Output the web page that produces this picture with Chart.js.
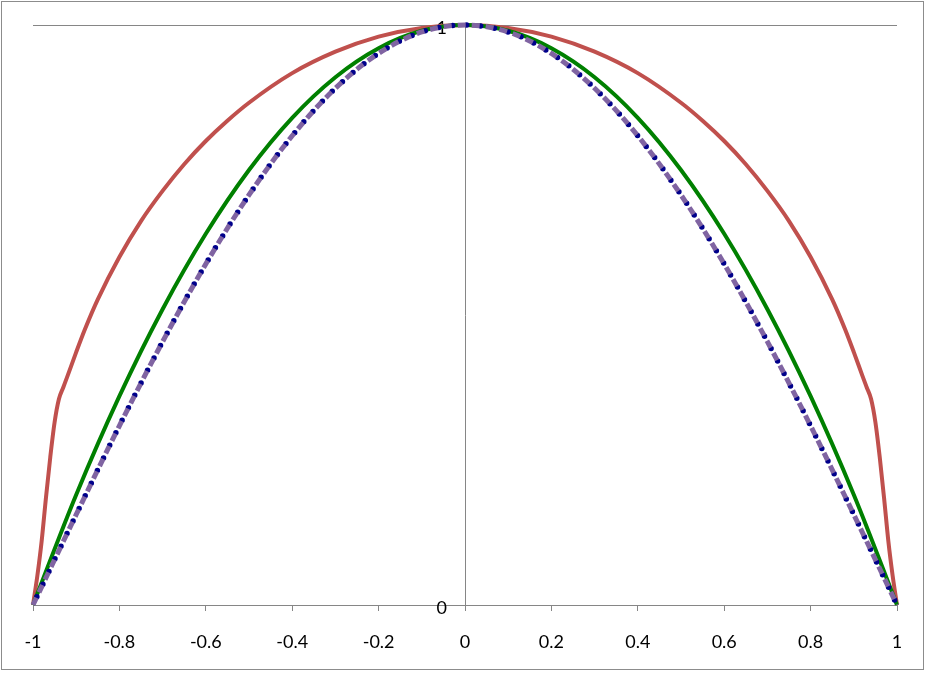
<!DOCTYPE html>
<html>
<head>
<meta charset="utf-8">
<script src="https://cdn.jsdelivr.net/npm/chart.js@4"></script>
<style>
  html, body { margin: 0; padding: 0; background: #fff; }
  #wrap { position: relative; width: 927px; height: 674px; }
  #marco { position: absolute; left: 1px; top: 1px; width: 921px; height: 667px; border: 1.5px solid #8c8c8c; }
  #grafico { position: absolute; left: 0; top: 0; }
</style>
</head>
<body>
<div id="wrap">
  <div id="marco"></div>
  <canvas id="grafico" width="927" height="674"></canvas>
</div>
<script>
// valores
var xRojo = [-1, -0.99, -0.98, -0.97, -0.96, -0.95, -0.94, -0.93, -0.92, -0.9, -0.88, -0.85, -0.8, -0.75, -0.7, -0.65, -0.6, -0.55, -0.5, -0.4, -0.3, -0.2, -0.1,
             0, 0.1, 0.2, 0.3, 0.4, 0.5, 0.55, 0.6, 0.65, 0.7, 0.75, 0.8, 0.85, 0.88, 0.9, 0.92, 0.93, 0.94, 0.95, 0.96, 0.97, 0.98, 0.99, 1];
var yRojo = [0, 0.05, 0.11, 0.185, 0.255, 0.315, 0.355, 0.375, 0.395, 0.436, 0.475, 0.527, 0.6, 0.662, 0.714, 0.76, 0.8, 0.835, 0.866, 0.917, 0.954, 0.98, 0.995,
             1, 0.995, 0.98, 0.954, 0.917, 0.866, 0.835, 0.8, 0.76, 0.714, 0.662, 0.6, 0.527, 0.475, 0.436, 0.395, 0.375, 0.355, 0.315, 0.255, 0.185, 0.11, 0.05, 0];

var xPaso = [-1, -0.9, -0.8, -0.7, -0.6, -0.5, -0.4, -0.3, -0.2, -0.1, 0, 0.1, 0.2, 0.3, 0.4, 0.5, 0.6, 0.7, 0.8, 0.9, 1];
var yVerde = [0, 0.19, 0.36, 0.51, 0.64, 0.75, 0.84, 0.91, 0.96, 0.99, 1, 0.99, 0.96, 0.91, 0.84, 0.75, 0.64, 0.51, 0.36, 0.19, 0];
var yMorado = [0, 0.156, 0.309, 0.454, 0.588, 0.707, 0.809, 0.891, 0.951, 0.988, 1, 0.988, 0.951, 0.891, 0.809, 0.707, 0.588, 0.454, 0.309, 0.156, 0];
var yAzul = [0, 0.156, 0.309, 0.454, 0.588, 0.707, 0.809, 0.891, 0.951, 0.988, 1, 0.988, 0.951, 0.891, 0.809, 0.707, 0.588, 0.454, 0.309, 0.156, 0];

var ticksY = [0, 1];

function puntos(xs, ys) {
    return xs.map(function (x, i) { return {x: x, y: ys[i]}; });
}

var gris = '#868686';

var ctx = document.getElementById('grafico').getContext('2d');
var grafico = new Chart(ctx, {
    type: 'line',
    data: {
        datasets: [
            {data: puntos(xPaso, yMorado), borderColor: '#8064A2', borderWidth: 5, borderDash: [8, 6], order: 0},
            {data: puntos(xPaso, yAzul), borderColor: '#00008B', borderWidth: 5.5, borderDash: [0, 14], borderDashOffset: 5, borderCapStyle: 'round', order: 1},
            {data: puntos(xPaso, yVerde), borderColor: '#008000', borderWidth: 4, order: 2},
            {data: puntos(xRojo, yRojo), borderColor: '#C0504D', borderWidth: 4, order: 3}
        ]
    },
    options: {
        responsive: false,
        animation: false,
        devicePixelRatio: 1,
        layout: {padding: {left: 33, right: 30, top: 25, bottom: 24}},
        elements: {
            point: {radius: 0},
            line: {cubicInterpolationMode: 'monotone', fill: false}
        },
        datasets: {line: {clip: false}},
        plugins: {legend: {display: false}, tooltip: {enabled: false}},
        scales: {
            x: {
                type: 'linear',
                min: -1,
                max: 1,
                afterFit: function (s) { s.height = 45; },
                grid: {drawOnChartArea: false, drawTicks: true, tickLength: 6, color: gris},
                border: {display: true, color: gris, width: 1},
                ticks: {
                    stepSize: 0.2,
                    maxRotation: 0,
                    padding: 20,
                    color: '#000',
                    font: {family: 'Lato', size: 18},
                    callback: function (v) { return Math.round(v * 10) / 10; }
                }
            },
            y: {
                position: {x: 0},
                min: 0,
                max: 1,
                grid: {drawOnChartArea: true, drawTicks: false, color: gris},
                border: {display: true, color: gris, width: 1},
                afterBuildTicks: function (s) { s.ticks = ticksY.map(function (v) { return {value: v}; }); },
                afterFit: function (s) { s.paddingTop = 0; s.paddingBottom = 0; },
                ticks: {
                    padding: 0,
                    labelOffset: 3,
                    color: '#000',
                    font: {family: 'Lato', size: 18},
                    // separa la etiqueta del eje vertical
                    callback: function (v) { return v + '\u2002\u2002'; }
                }
            }
        }
    }
});
</script>
</body>
</html>
